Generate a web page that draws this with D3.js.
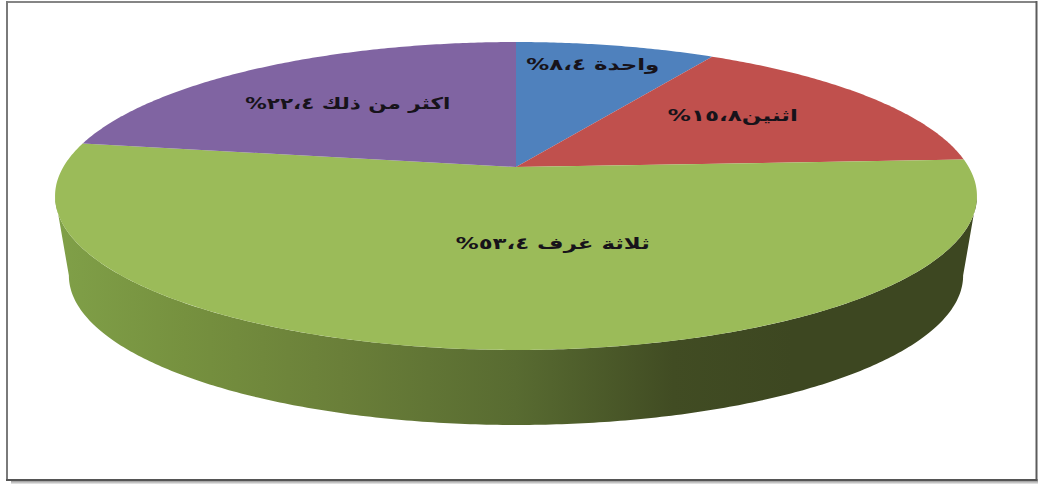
<!DOCTYPE html>
<html lang="ar">
<head>
<meta charset="utf-8">
<title>عدد الغرف</title>
<script src="https://cdnjs.cloudflare.com/ajax/libs/d3/7.8.5/d3.min.js"></script>
<style>
  html, body { margin: 0; padding: 0; background: #fff; }
  svg { display: block; }
  .slice-label {
    font-family: "DejaVu Sans", sans-serif;
    font-weight: 700;
    font-size: 16px;
    fill: #17131a;
    direction: rtl;
    text-anchor: middle;
    dominant-baseline: middle;
  }
</style>
</head>
<body>
<svg id="chart" width="1038" height="484"></svg>
<script>
// Rooms per dwelling, in percent, clockwise from twelve o'clock
const categories = ["واحدة ", "اثنين", "ثلاثة غرف ", "اكثر من ذلك "];
const values = [8.4, 15.8, 53.4, 22.4];
const sliceColors = ["#4f81bd", "#c0504d", "#9bbb59", "#8064a2"];

const width = 1038, height = 484;
const svg = d3.select("#chart");

// Western digits to Arabic-Indic, with the Arabic decimal comma
const arabicDigits = "٠١٢٣٤٥٦٧٨٩";
const toArabic = v => String(v).replace(/\d/g, d => arabicDigits[+d]).replace(".", "،");

// Perspective view of a flat disc: the disc centre lands above the middle
// of its ellipse, and the near rim is stretched more than the far rim.
const centreX = 516, centreY = 167;
const spreadX = 452.7, spreadY = 148.5, tilt = 0.1883;
const wallDrop = 80.5, wallShrink = 0.97;

function project(angle, radius = 1, level = 0) {
  const u = radius * Math.sin(angle);
  const v = -radius * Math.cos(angle);
  const w = 1 - tilt * v;
  const scale = level ? wallShrink : 1;
  return [
    centreX + scale * spreadX * u / w,
    centreY + (level ? wallDrop : 0) + scale * spreadY * v / w
  ];
}

const sweep = (a0, a1) => {
  const steps = Math.max(2, Math.ceil(Math.abs(a1 - a0) / 0.01));
  return d3.range(steps + 1).map(i => a0 + (a1 - a0) * i / steps);
};

const path = d3.line();
const arcs = d3.pie().sort(null)(values);

// Horizontal light falloff along the outer wall
const defs = svg.append("defs");
const wallGradient = defs.append("linearGradient")
  .attr("id", "wall-shade")
  .attr("gradientUnits", "userSpaceOnUse")
  .attr("x1", 55).attr("x2", 977).attr("y1", 0).attr("y2", 0);
[[0, "#80a048"], [0.14, "#76913f"], [0.31, "#6a7f39"], [0.5, "#586b31"],
 [0.67, "#414c23"], [0.8, "#3d4721"], [1, "#3d4721"]]
  .forEach(([o, c]) => wallGradient.append("stop").attr("offset", o).attr("stop-color", c));

// Picture frame: lighter top and left rules, heavier right and bottom rules, soft shadow below
const shadow = defs.append("linearGradient")
  .attr("id", "frame-shadow").attr("x1", 0).attr("x2", 0).attr("y1", 0).attr("y2", 1);
shadow.append("stop").attr("offset", 0).attr("stop-color", "#9a9a9a");
shadow.append("stop").attr("offset", 1).attr("stop-color", "#ececec");
svg.append("rect").attr("width", width).attr("height", height).attr("fill", "#fff");
svg.append("rect").attr("x", 11).attr("y", 481).attr("width", 1027).attr("height", 3)
  .attr("fill", "url(#frame-shadow)");
const rule = (x1, y1, x2, y2, color) => svg.append("line")
  .attr("x1", x1).attr("y1", y1).attr("x2", x2).attr("y2", y2)
  .attr("stroke", color).attr("stroke-width", 2);
rule(7, 2, 1037, 2, "#858585");
rule(7, 1, 7, 481, "#7a7a7a");
rule(1036.5, 1, 1036.5, 481, "#5c5c5c");
rule(6, 480, 1037.5, 480, "#555555");

// Outer wall, visible between the two silhouette points of the rim
const rimRight = Math.acos(-tilt);
const rimLeft = 2 * Math.PI - rimRight;
const frontAngles = sweep(rimRight, rimLeft);
const wallOutline = frontAngles.map(a => project(a))
  .concat(frontAngles.slice().reverse().map(a => project(a, 1, 1)));
svg.append("path")
  .attr("d", path(wallOutline) + "Z")
  .attr("fill", "url(#wall-shade)");

// Top face
svg.append("g").selectAll("path")
  .data(arcs)
  .join("path")
  .attr("d", d => path([[centreX, centreY]].concat(
    sweep(d.startAngle, d.endAngle).map(a => project(a)))) + "Z")
  .attr("fill", (d, i) => sliceColors[i]);

// Labels sit near each slice's mid-angle, nudged by these per-slice amounts,
// and are stretched to a set run length in their wide face
const labelRadius = [0.81, 0.63, 0.48, 0.61];
const labelShift = [-1.2, -4.3, -12.1, -1.1].map(d => d * Math.PI / 180);
const labelRun = [133, 130, 194, 205];

const labels = svg.append("g").selectAll("text")
  .data(arcs)
  .join("text")
  .attr("class", "slice-label")
  .attr("textLength", (d, i) => labelRun[i])
  .attr("lengthAdjust", "spacingAndGlyphs")
  .attr("transform", (d, i) => {
    const mid = (d.startAngle + d.endAngle) / 2 + labelShift[i];
    return `translate(${project(mid, labelRadius[i])})`;
  });
labels.append("tspan").text((d, i) => categories[i]);
labels.append("tspan").text((d, i) => `${toArabic(values[i])}%`);
</script>
</body>
</html>
